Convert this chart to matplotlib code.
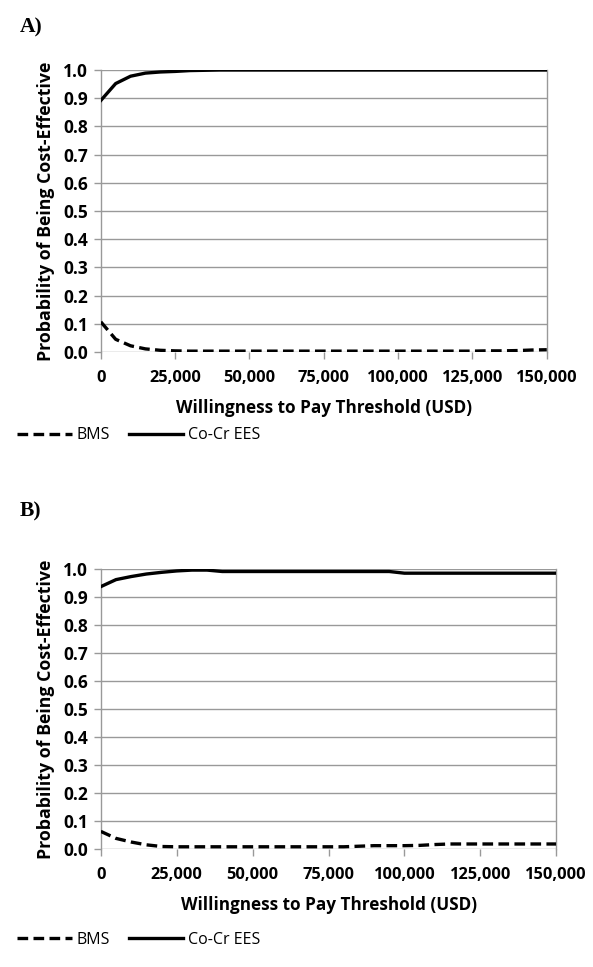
import matplotlib
matplotlib.use("Agg")
import matplotlib.pyplot as plt
import numpy as np

#%% data

wtp = np.arange(0, 150001, 5000)

bms_a = [0.107, 0.045, 0.022, 0.011, 0.006, 0.004, 0.003, 0.003, 0.003, 0.003,
         0.003, 0.003, 0.003, 0.003, 0.003, 0.003, 0.003, 0.003, 0.003, 0.003,
         0.003, 0.003, 0.003, 0.003, 0.003, 0.003, 0.004, 0.004, 0.005, 0.007,
         0.008]
ees_a = [0.892, 0.952, 0.978, 0.989, 0.993, 0.995, 0.998, 0.999, 1.0, 1.0,
         1.0, 1.0, 1.0, 1.0, 1.0, 1.0, 1.0, 1.0, 1.0, 1.0,
         1.0, 1.0, 1.0, 1.0, 1.0, 1.0, 1.0, 1.0, 1.0, 1.0,
         1.0]

bms_b = [0.063, 0.038, 0.025, 0.015, 0.009, 0.008, 0.008, 0.008, 0.008, 0.008,
         0.008, 0.008, 0.008, 0.008, 0.008, 0.008, 0.008, 0.010, 0.012, 0.012,
         0.012, 0.013, 0.016, 0.018, 0.018, 0.018, 0.018, 0.018, 0.018, 0.018,
         0.018]
ees_b = [0.937, 0.962, 0.973, 0.982, 0.988, 0.993, 0.996, 0.996, 0.991, 0.991,
         0.991, 0.991, 0.991, 0.991, 0.991, 0.991, 0.991, 0.991, 0.991, 0.991,
         0.985, 0.985, 0.985, 0.985, 0.985, 0.985, 0.985, 0.985, 0.985, 0.985,
         0.985]

yticks = np.arange(0, 1.01, 0.1)
xticks = np.arange(0, 150001, 25000)
series_names = ["BMS", "Co-Cr EES"]

#%% style

sans = ["Open Sans", "DejaVu Sans"]
grey = "#999999"

fig = plt.figure(figsize=(5.93, 9.67), dpi=100)

def panel(rect, bms, ees, letter, letter_y, legend_y):
    ax = fig.add_axes(rect)
    ax.plot(wtp, bms, color="black", lw=2.4, ls=(0, (3.2, 1.6)),
            solid_capstyle="butt", label=series_names[0], zorder=3)
    ax.plot(wtp, ees, color="black", lw=2.4, label=series_names[1], zorder=3)
    ax.set_xlim(0, 150000)
    ax.set_ylim(0, 1.0)
    ax.set_yticks(yticks)
    ax.set_yticklabels(["{:.1f}".format(v) for v in yticks])
    ax.set_xticks(xticks)
    ax.set_xticklabels(["{:,}".format(v) for v in xticks])
    ax.grid(axis="y", color=grey, lw=1.0)
    ax.set_axisbelow(True)
    for side in ["left", "bottom", "right"]:
        ax.spines[side].set_color(grey)
        ax.spines[side].set_linewidth(1.0)
    ax.spines["top"].set_visible(False)
    ax.spines["bottom"].set_visible(False)
    ax.tick_params(axis="both", direction="out", length=5, color=grey,
                   width=1.0, labelsize=12.5, pad=4)
    ax.tick_params(axis="x", pad=8, labelsize=11.8)
    for lab in ax.get_xticklabels() + ax.get_yticklabels():
        lab.set_fontfamily(sans)
        lab.set_fontweight("bold")
    ax.set_xlabel("Willingness to Pay Threshold (USD)", fontsize=12.3,
                  fontweight="bold", family=sans, labelpad=9)
    ax.set_ylabel("Probability of Being Cost-Effective", fontsize=12.8,
                  fontweight="bold", family=sans, labelpad=6)
    fig.text(0.033, letter_y, letter, fontsize=15.5, fontweight="bold",
             family=["Liberation Serif", "DejaVu Serif"])
    fig.legend(handles=ax.get_lines(), loc="center left",
               bbox_to_anchor=(0.005, legend_y), ncol=2, frameon=False,
               handlelength=3.4, handletextpad=0.3, columnspacing=1.2,
               prop={"family": sans, "size": 11.5})
    return ax

panel([0.170, 0.636, 0.752, 0.2916], bms_a, ees_a, "A)", 0.966, 0.550)
panel([0.170, 0.122, 0.768, 0.2896], bms_b, ees_b, "B)", 0.466, 0.028)

fig.savefig("out.png", dpi=100)
